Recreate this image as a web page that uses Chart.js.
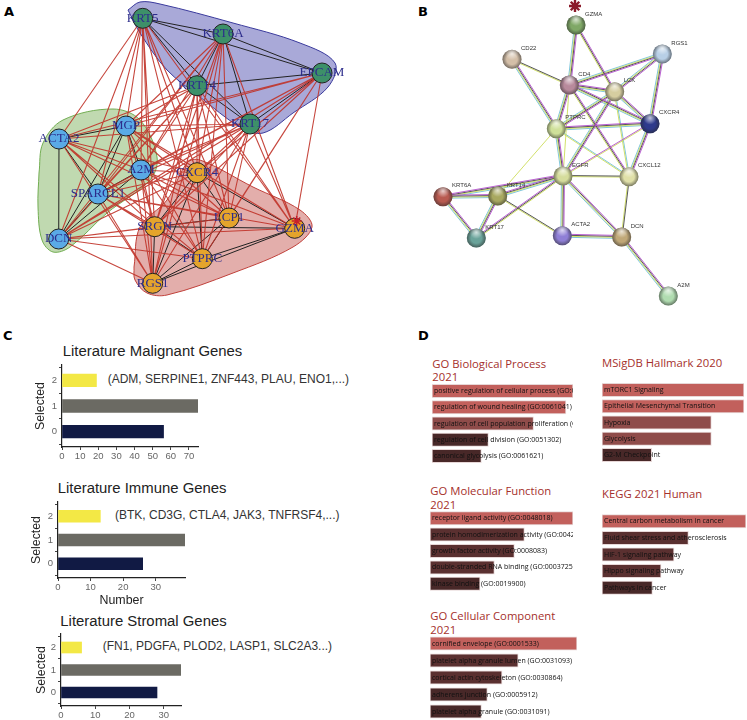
<!DOCTYPE html>
<html lang="en">
<head>
    <meta charset="UTF-8">
    <title>Gene panels</title>
    <script src="https://cdn.jsdelivr.net/npm/chart.js"></script>
    <style>
        body {
            margin: 0;
            background: #fff;
            width: 747px;
            height: 720px;
            position: relative;
            overflow: hidden;
            font-family: 'Liberation Sans', Arial, sans-serif;
        }

        canvas {
            position: absolute;
        }

        .txt {
            position: absolute;
            white-space: nowrap;
            transform: translateY(-50%);
            line-height: 1;
        }

        .letter {
            font: bold 13px 'DejaVu Sans', sans-serif;
            color: #000;
        }

        .ctitle {
            font-size: 14.9px;
            color: #222;
        }

        .genes {
            font-size: 12px;
            color: #333;
        }

        .dtitle {
            font: 11.3px 'Open Sans', sans-serif;
            color: #a5302c;
        }
    </style>
</head>
<body>
    <div class="txt letter" style="left:4px;top:11px">A</div>
    <div class="txt letter" style="left:418px;top:11px">B</div>
    <div class="txt letter" style="left:3px;top:335px">C</div>
    <div class="txt letter" style="left:418px;top:335px">D</div>

    <canvas id="netA" style="left:0;top:0" width="370" height="310"></canvas>
    <canvas id="netB" style="left:410px;top:0" width="337" height="310"></canvas>

    <div class="txt ctitle" style="left:62.7px;top:351px">Literature Malignant Genes</div>
    <div class="txt ctitle" style="left:57.7px;top:488px">Literature Immune Genes</div>
    <div class="txt ctitle" style="left:60.3px;top:621px">Literature Stromal Genes</div>
    <div class="txt genes" style="left:107.7px;top:379px">(ADM, SERPINE1, ZNF443, PLAU, ENO1,...)</div>
    <div class="txt genes" style="left:115px;top:515px">(BTK, CD3G, CTLA4, JAK3, TNFRSF4,...)</div>
    <div class="txt genes" style="left:102.7px;top:646px">(FN1, PDGFA, PLOD2, LASP1, SLC2A3...)</div>

    <div class="txt dtitle" style="left:432.3px;top:363px">GO Biological Process</div>
    <div class="txt dtitle" style="left:432.3px;top:376px">2021</div>
    <div class="txt dtitle" style="left:602px;top:362px">MSigDB Hallmark 2020</div>
    <div class="txt dtitle" style="left:430.3px;top:490px">GO Molecular Function</div>
    <div class="txt dtitle" style="left:430.3px;top:504px">2021</div>
    <div class="txt dtitle" style="left:602px;top:493px">KEGG 2021 Human</div>
    <div class="txt dtitle" style="left:430.3px;top:615px">GO Cellular Component</div>
    <div class="txt dtitle" style="left:430.3px;top:629px">2021</div>

    <script>
        // Panel A nodes
        const netANames = ['KRT5', 'KRT6A', 'EPCAM', 'KRT14', 'KRT17', 'MGP', 'ACTA2', 'A2M', 'SPARCL1', 'DCN', 'CXCR4', 'SRGN', 'LCP1', 'GZMA', 'PTPRC', 'RGS1'];
        const netAX = [142.7, 223, 322, 197, 250, 126, 59, 141, 98, 58.7, 197, 154.7, 229, 294.7, 202.3, 152.7];
        const netAY = [18.3, 34, 73, 85.7, 124, 126, 139, 170, 194, 239, 172.7, 226.7, 218, 228.3, 258.7, 283.3];
        const netAGroups = [0, 0, 0, 0, 0, 1, 1, 1, 1, 1, 2, 2, 2, 2, 2, 2];

        const netABlack = [
            ['KRT5', 'KRT6A'], ['KRT5', 'EPCAM'], ['KRT5', 'KRT14'], ['KRT5', 'KRT17'], ['KRT6A', 'EPCAM'],
            ['KRT6A', 'KRT14'], ['KRT6A', 'KRT17'], ['KRT14', 'EPCAM'], ['KRT14', 'KRT17'], ['KRT17', 'EPCAM'],
            ['ACTA2', 'MGP'], ['ACTA2', 'DCN'], ['ACTA2', 'SPARCL1'], ['MGP', 'SPARCL1'], ['MGP', 'A2M'],
            ['MGP', 'DCN'], ['A2M', 'SPARCL1'], ['A2M', 'DCN'], ['SPARCL1', 'DCN'],
            ['CXCR4', 'SRGN'], ['CXCR4', 'LCP1'], ['CXCR4', 'GZMA'], ['CXCR4', 'PTPRC'], ['CXCR4', 'RGS1'],
            ['SRGN', 'LCP1'], ['SRGN', 'GZMA'], ['SRGN', 'PTPRC'], ['SRGN', 'RGS1'], ['LCP1', 'PTPRC'],
            ['LCP1', 'RGS1'], ['GZMA', 'PTPRC'], ['GZMA', 'RGS1'], ['PTPRC', 'RGS1']
        ];

        const netARed = {
            KRT5: ['ACTA2', 'MGP', 'A2M', 'SPARCL1', 'DCN', 'CXCR4', 'SRGN', 'LCP1', 'GZMA', 'PTPRC', 'RGS1'],
            KRT6A: ['MGP', 'A2M', 'SPARCL1', 'DCN', 'CXCR4', 'SRGN', 'LCP1', 'GZMA', 'PTPRC', 'RGS1'],
            KRT14: ['ACTA2', 'MGP', 'A2M', 'SPARCL1', 'DCN', 'CXCR4', 'SRGN', 'LCP1', 'GZMA', 'PTPRC', 'RGS1'],
            KRT17: ['ACTA2', 'MGP', 'A2M', 'SPARCL1', 'DCN', 'CXCR4', 'SRGN', 'LCP1', 'GZMA', 'PTPRC', 'RGS1'],
            EPCAM: ['ACTA2', 'MGP', 'A2M', 'SPARCL1', 'DCN', 'CXCR4', 'SRGN', 'LCP1', 'GZMA', 'PTPRC'],
            ACTA2: ['CXCR4', 'SRGN', 'LCP1', 'GZMA', 'PTPRC', 'RGS1'],
            MGP: ['CXCR4', 'SRGN', 'LCP1', 'GZMA', 'PTPRC', 'RGS1'],
            A2M: ['CXCR4', 'SRGN', 'LCP1', 'GZMA', 'PTPRC', 'RGS1'],
            SPARCL1: ['CXCR4', 'SRGN', 'LCP1', 'GZMA', 'PTPRC', 'RGS1'],
            DCN: ['CXCR4', 'SRGN', 'LCP1', 'GZMA', 'PTPRC', 'RGS1']
        };

        // Cluster outlines, panel A
        const blueHull = [[128, 10], [140, 2], [160, 4], [233, 23], [300, 43], [335, 63], [328, 87], [293, 113], [263, 133], [240, 127], [200, 97], [167, 70], [140, 33]];
        const greenHull = [[39, 173], [43, 143], [63, 120], [113, 109], [140, 120], [157, 157], [150, 180], [107, 213], [70, 247], [53, 252], [42, 240], [38, 207]];
        const redHull = [[134, 267], [140, 227], [167, 200], [187, 163], [200, 160], [253, 187], [300, 210], [312, 227], [293, 247], [233, 273], [167, 295], [147, 293], [135, 280]];
        const gzmaStar = [[296.7, 221]];

        // Panel B nodes
        const netBNames = ['GZMA', 'CD22', 'RGS1', 'CD4', 'LCK', 'CXCR4', 'PTPRC', 'EGFR', 'CXCL12', 'KRT6A', 'KRT14', 'KRT17', 'ACTA2', 'DCN', 'A2M'];
        const netBX = [166, 102, 252.3, 159.3, 204.7, 240, 146.3, 153, 219, 33, 87.7, 66.3, 152.3, 211.7, 258.3];
        const netBY = [25, 59.3, 54, 85, 91.7, 123.7, 128.7, 176, 176.7, 196.7, 196, 238, 235.7, 237, 296];
        const netBColors = ['#7fa866', '#d4bfa8', '#b8cfe6', '#b88a9c', '#d6cda0', '#2e3a8c', '#cfe09a', '#d5dc9c', '#e0e0a8', '#b85a50', '#a8a860', '#6aa39a', '#8f7fd6', '#c0a878', '#b0dcb0'];

        const evidenceFull = [
            ['GZMA', 'CD4'], ['CD4', 'PTPRC'], ['CD4', 'LCK'], ['CD4', 'CXCR4'], ['LCK', 'PTPRC'], ['LCK', 'CXCR4'],
            ['LCK', 'EGFR'], ['RGS1', 'LCK'], ['RGS1', 'CD4'], ['RGS1', 'CXCR4'], ['PTPRC', 'CXCR4'], ['KRT6A', 'KRT14'],
            ['KRT6A', 'EGFR'], ['KRT14', 'EGFR'], ['KRT14', 'KRT17'], ['KRT6A', 'KRT17'], ['EGFR', 'ACTA2'], ['EGFR', 'DCN'],
            ['DCN', 'A2M'], ['ACTA2', 'DCN'], ['PTPRC', 'EGFR'], ['CD22', 'PTPRC'], ['CXCR4', 'CXCL12']
        ];
        const evidenceTriple = [['GZMA', 'LCK'], ['KRT17', 'EGFR'], ['CD4', 'CXCL12']];
        const evidencePurpleYellow = [['EGFR', 'CXCR4']];
        const evidenceDarkYellow = [['CD22', 'CD4'], ['EGFR', 'CXCL12'], ['CXCL12', 'DCN'], ['KRT14', 'ACTA2']];
        const evidenceCyanYellow = [['LCK', 'CXCL12'], ['PTPRC', 'CXCL12']];
        const evidenceYellow = [['PTPRC', 'KRT14'], ['CD4', 'EGFR']];
        const bStar = [[165, 6]];

        // Panel C bars, index is the Selected value
        const selectedValues = [0, 1, 2];
        const malignantCounts = [56, 75, 19];
        const immuneCounts = [26, 39, 13];
        const stromalCounts = [28, 35, 6];
        const selectedColors = ['#111a44', '#6b6a63', '#f3e845'];

        // Panel D bars
        const bioLabels = ['positive regulation of cellular process (GO:0048522)', 'regulation of wound healing (GO:0061041)', 'regulation of cell population proliferation (GO:0042127)', 'regulation of cell division (GO:0051302)', 'canonical glycolysis (GO:0061621)'];
        const bioScores = [100, 95, 72, 40, 35];
        const hallmarkLabels = ['mTORC1 Signaling', 'Epithelial Mesenchymal Transition', 'Hypoxia', 'Glycolysis', 'G2-M Checkpoint'];
        const hallmarkScores = [100, 100, 77, 77, 35];
        const molLabels = ['receptor ligand activity (GO:0048018)', 'protein homodimerization activity (GO:0042803)', 'growth factor activity (GO:0008083)', 'double-stranded RNA binding (GO:0003725)', 'kinase binding (GO:0019900)'];
        const molScores = [100, 66, 59, 45, 35];
        const keggLabels = ['Central carbon metabolism in cancer', 'Fluid shear stress and atherosclerosis', 'HIF-1 signaling pathway', 'Hippo signaling pathway', 'Pathways in cancer'];
        const keggScores = [100, 60, 50, 41, 35];
        const cellLabels = ['cornified envelope (GO:0001533)', 'platelet alpha granule lumen (GO:0031093)', 'cortical actin cytoskeleton (GO:0030864)', 'adherens junction (GO:0005912)', 'platelet alpha granule (GO:0031091)'];
        const cellScores = [100, 60, 49, 39, 35];

        const LIGHT = '#c2605c', MID = '#8f4c4a', DARK = '#5a3030', DARKEST = '#482828';

        Chart.defaults.animation = false;
        Chart.defaults.plugins.legend.display = false;
        Chart.defaults.plugins.tooltip.enabled = false;
        Chart.defaults.font.family = "'Liberation Sans', Arial, sans-serif";

        function toPoints(list) {
            return list.map(p => ({ x: p[0], y: p[1] }));
        }

        function hullDataset(points, fill, line) {
            const pts = toPoints(points);
            pts.push(pts[0]);
            return {
                data: pts, showLine: true, fill: 'shape', tension: 0.35, pointRadius: 0,
                backgroundColor: fill, borderColor: line, borderWidth: 1, order: 10
            };
        }

        function pixelScales(w, h) {
            return {
                x: { type: 'linear', display: false, min: 0, max: w },
                y: { type: 'linear', display: false, min: 0, max: h, reverse: true }
            };
        }

        // Stop the scale asking the layout for room around its tick labels
        function noPadding(scale) {
            scale.paddingTop = 0;
            scale.paddingBottom = 0;
            scale.paddingLeft = 0;
            scale.paddingRight = 0;
        }

        // Names next to or on top of the nodes
        function nodeLabels(names, font, color, dx, dy, align) {
            return {
                id: 'nodeLabels',
                afterDatasetsDraw(chart) {
                    const meta = chart.getDatasetMeta(chart.data.datasets.findIndex(d => d.isNodes));
                    const ctx = chart.ctx;
                    ctx.save();
                    ctx.font = font;
                    ctx.fillStyle = color;
                    ctx.textAlign = align;
                    ctx.textBaseline = 'middle';
                    meta.data.forEach((pt, i) => ctx.fillText(names[i], pt.x + dx, pt.y + dy));
                    ctx.restore();
                }
            };
        }

        // Shading on the STRING spheres
        const sphereShade = {
            id: 'sphereShade',
            afterDatasetDraw(chart, args) {
                if (!chart.data.datasets[args.index].isNodes) return;
                const ctx = chart.ctx;
                args.meta.data.forEach(pt => {
                    const r = 9.5;
                    let g = ctx.createRadialGradient(pt.x, pt.y, r * 0.55, pt.x, pt.y, r);
                    g.addColorStop(0, 'rgba(40,40,40,0)');
                    g.addColorStop(1, 'rgba(40,40,40,0.55)');
                    ctx.fillStyle = g;
                    ctx.beginPath();
                    ctx.arc(pt.x, pt.y, r, 0, Math.PI * 2);
                    ctx.fill();
                    g = ctx.createRadialGradient(pt.x, pt.y - r * 0.6, 0, pt.x, pt.y - r * 0.6, r * 0.7);
                    g.addColorStop(0, 'rgba(255,255,255,0.7)');
                    g.addColorStop(1, 'rgba(255,255,255,0)');
                    ctx.fillStyle = g;
                    ctx.beginPath();
                    ctx.arc(pt.x, pt.y, r, 0, Math.PI * 2);
                    ctx.fill();
                });
            }
        };

        // Panel A
        function drawNetA() {
            const lookup = name => {
                const i = netANames.indexOf(name);
                return { x: netAX[i], y: netAY[i] };
            };
            const gap = { x: NaN, y: NaN };
            const blackData = [];
            netABlack.forEach(e => blackData.push(lookup(e[0]), lookup(e[1]), gap));
            const redData = [];
            Object.keys(netARed).forEach(a => {
                netARed[a].forEach(b => redData.push(lookup(a), lookup(b), gap));
            });
            const groupColors = ['#3d9069', '#5aaae6', '#e5a42c'];
            new Chart(document.getElementById('netA'), {
                type: 'scatter',
                data: {
                    datasets: [
                        {
                            data: toPoints(gzmaStar), pointStyle: 'star', pointRadius: 5, pointBorderWidth: 1.6,
                            pointBorderColor: '#c8202a', order: 0
                        },
                        {
                            isNodes: true,
                            data: netAX.map((x, i) => ({ x: x, y: netAY[i] })),
                            pointRadius: 10, pointBorderWidth: 1, pointBorderColor: '#222',
                            pointBackgroundColor: netAGroups.map(g => groupColors[g]), order: 1
                        },
                        { data: redData, showLine: true, spanGaps: false, pointRadius: 0, borderColor: 'rgba(192,50,40,0.9)', borderWidth: 1.1, order: 2 },
                        { data: blackData, showLine: true, spanGaps: false, pointRadius: 0, borderColor: '#222', borderWidth: 1, order: 3 },
                        hullDataset(blueHull, '#a9a9d8', '#3a3a9c'),
                        hullDataset(greenHull, '#c0d9b0', '#72ad52'),
                        hullDataset(redHull, '#e3aeab', '#c0403a')
                    ]
                },
                options: { responsive: false, layout: { autoPadding: false, padding: 0 }, scales: pixelScales(370, 310) },
                plugins: [nodeLabels(netANames, "13px 'Liberation Serif', serif", '#2d2d8c', 0, 0, 'center')]
            });
        }

        // Panel B
        function drawNetB() {
            const lookup = name => {
                const i = netBNames.indexOf(name);
                return { x: netBX[i], y: netBY[i] };
            };
            const PURPLE = '#b24fcc', BLACK = '#444', YELLOW = '#cddc5a', CYAN = '#6fc0d8';
            const groups = [
                [evidenceFull, [PURPLE, BLACK, YELLOW, CYAN]],
                [evidenceTriple, [PURPLE, BLACK, YELLOW]],
                [evidencePurpleYellow, [PURPLE, YELLOW]],
                [evidenceDarkYellow, [BLACK, YELLOW]],
                [evidenceCyanYellow, [CYAN, YELLOW]],
                [evidenceYellow, [YELLOW]]
            ];
            const stripes = { [PURPLE]: [], [BLACK]: [], [YELLOW]: [], [CYAN]: [] };
            groups.forEach(([pairs, colors]) => {
                colors.forEach((color, c) => {
                    const off = (c - (colors.length - 1) / 2) * 1;
                    pairs.forEach(([p, q]) => {
                        const a = lookup(p), b = lookup(q);
                        const len = Math.hypot(b.x - a.x, b.y - a.y);
                        const nx = -(b.y - a.y) / len * off, ny = (b.x - a.x) / len * off;
                        stripes[color].push({ x: a.x + nx, y: a.y + ny }, { x: b.x + nx, y: b.y + ny }, { x: NaN, y: NaN });
                    });
                });
            });
            const lineSets = Object.keys(stripes).map(color => ({
                data: stripes[color], showLine: true, spanGaps: false, pointRadius: 0,
                borderColor: color, borderWidth: 0.9, order: 5
            }));
            new Chart(document.getElementById('netB'), {
                type: 'scatter',
                data: {
                    datasets: [
                        {
                            data: toPoints(bStar), pointStyle: 'star', pointRadius: 6, pointBorderWidth: 2.4,
                            pointBorderColor: '#8b1a2a', order: 0
                        },
                        {
                            isNodes: true,
                            data: netBX.map((x, i) => ({ x: x, y: netBY[i] })),
                            pointRadius: 9.5, pointBorderWidth: 0,
                            pointBackgroundColor: netBColors, order: 1
                        }
                    ].concat(lineSets)
                },
                options: { responsive: false, layout: { autoPadding: false, padding: 0 }, scales: pixelScales(337, 310) },
                plugins: [sphereShade, nodeLabels(netBNames, "6px 'Liberation Sans', sans-serif", '#333', 9, -11, 'left')]
            });
        }

        // Panel C, plot box given in page pixels
        function selectedChart(counts, box) {
            const canvas = document.createElement('canvas');
            const axisW = 40, padTop = 4, padRight = 10;
            const xH = box.xTitle ? 30 : 16;
            canvas.width = axisW + box.w + padRight;
            canvas.height = padTop + box.h + xH;
            canvas.style.left = (box.x - axisW) + 'px';
            canvas.style.top = (box.y - padTop) + 'px';
            document.body.appendChild(canvas);
            const tickFont = { size: 9.5 };
            new Chart(canvas, {
                type: 'bar',
                data: {
                    datasets: [{
                        data: selectedValues.map((s, i) => ({ x: counts[i], y: s })),
                        backgroundColor: selectedColors,
                        barThickness: box.bar
                    }]
                },
                options: {
                    indexAxis: 'y',
                    responsive: false,
                    layout: { autoPadding: false, padding: { top: padTop, right: padRight, left: 0, bottom: 0 } },
                    scales: {
                        x: {
                            type: 'linear', min: 0, max: box.max,
                            afterFit(s) { s.height = xH; noPadding(s); },
                            border: { color: '#222', width: 1.2 },
                            grid: { drawOnChartArea: false, tickLength: 3, tickColor: '#444' },
                            ticks: { stepSize: 10, includeBounds: false, maxRotation: 0, padding: 1, color: '#666', font: tickFont },
                            title: { display: !!box.xTitle, text: box.xTitle, color: '#222', font: { size: 12.4 }, padding: 0 }
                        },
                        y: {
                            type: 'linear', min: -0.6, max: 2.6, offset: false,
                            afterFit(s) { s.width = axisW; noPadding(s); },
                            border: { color: '#222', width: 1.2 },
                            grid: { drawOnChartArea: false, tickLength: 3, tickColor: '#444' },
                            ticks: { stepSize: 1, includeBounds: false, padding: 2, color: '#666', font: tickFont },
                            title: { display: true, text: 'Selected', color: '#222', font: { size: 12.3 }, padding: { top: box.titlePad, bottom: 0 } }
                        }
                    }
                }
            });
        }

        // Panel D, labels are mirrored ticks so they run over the bars
        function enrichChart(labels, scores, colors, box) {
            const canvas = document.createElement('canvas');
            canvas.width = box.w;
            canvas.height = box.h;
            canvas.style.left = box.x + 'px';
            canvas.style.top = box.y + 'px';
            document.body.appendChild(canvas);
            new Chart(canvas, {
                type: 'bar',
                data: {
                    labels: labels,
                    datasets: [{
                        data: scores,
                        backgroundColor: colors,
                        borderColor: 'rgba(225,205,205,0.8)',
                        borderWidth: 1,
                        borderSkipped: false,
                        barThickness: 13.3
                    }]
                },
                options: {
                    indexAxis: 'y',
                    responsive: false,
                    layout: { autoPadding: false, padding: 0 },
                    scales: {
                        x: { type: 'linear', display: false, min: 0, max: 100 },
                        y: {
                            type: 'category',
                            afterFit(s) { s.width = 0; noPadding(s); },
                            border: { display: false },
                            grid: { display: false },
                            ticks: {
                                mirror: true, z: 1, padding: 2, autoSkip: false, color: '#111',
                                font: { family: "'Open Sans', sans-serif", size: 7 }
                            }
                        }
                    }
                }
            });
        }

        drawNetA();
        drawNetB();

        selectedChart(malignantCounts, { x: 62.3, y: 365, w: 136.7, h: 82.3, max: 75, bar: 12.7, titlePad: 11 });
        selectedChart(immuneCounts, { x: 57.7, y: 501.7, w: 127, h: 76.6, max: 39, bar: 11.7, xTitle: 'Number', titlePad: 11 });
        selectedChart(stromalCounts, { x: 60.7, y: 634, w: 120.3, h: 72, max: 35, bar: 11, titlePad: 13 });

        enrichChart(bioLabels, bioScores, [LIGHT, LIGHT, MID, DARKEST, DARKEST], { x: 432.3, y: 382.5, w: 141.7, h: 81.7 });
        enrichChart(hallmarkLabels, hallmarkScores, [LIGHT, LIGHT, MID, MID, DARKEST], { x: 602, y: 381.9, w: 142, h: 81.7 });
        enrichChart(molLabels, molScores, [LIGHT, DARK, DARK, DARK, DARKEST], { x: 430.3, y: 510, w: 143, h: 82.2 });
        enrichChart(keggLabels, keggScores, [LIGHT, DARK, DARK, DARK, DARKEST], { x: 602, y: 512.7, w: 144, h: 83.5 });
        enrichChart(cellLabels, cellScores, [LIGHT, DARK, DARK, DARKEST, DARKEST], { x: 430.3, y: 635.2, w: 147.7, h: 85 });
    </script>
</body>
</html>
